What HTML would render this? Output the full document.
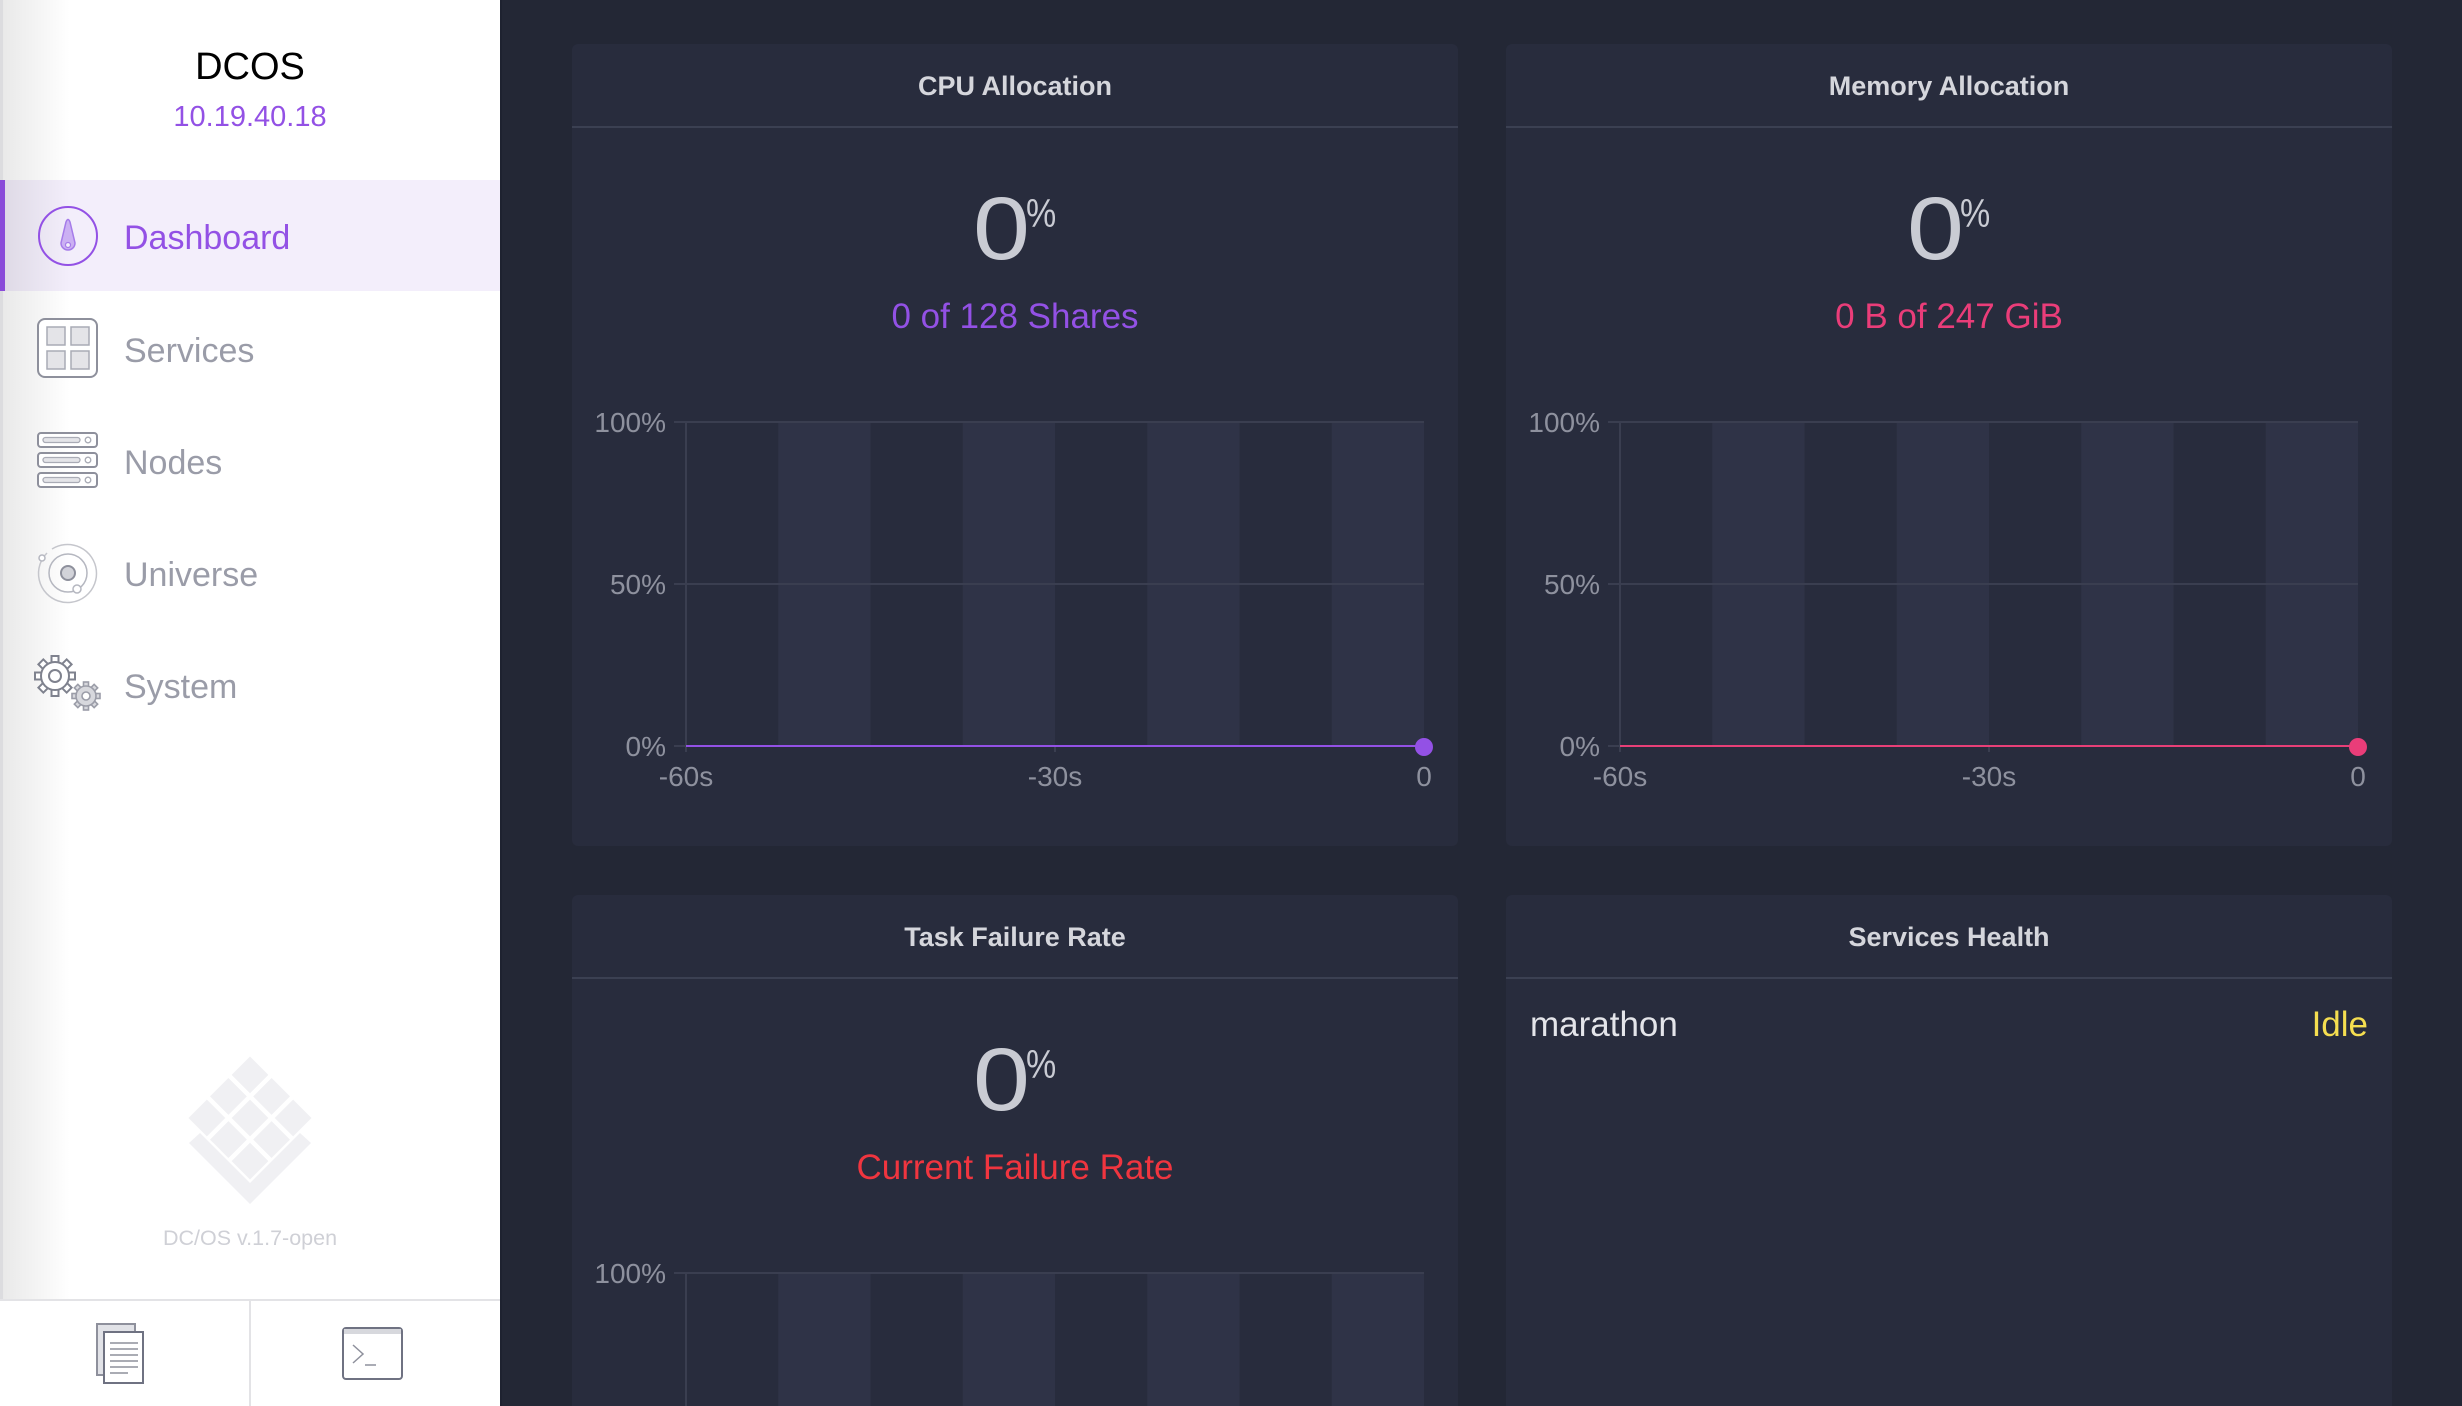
<!DOCTYPE html>
<html><head><meta charset="utf-8"><style>
html,body{margin:0;padding:0;background:#232735;overflow:hidden;width:2462px;height:1406px;}
svg{display:block;overflow:hidden;}
text{font-family:"Liberation Sans",Arial,sans-serif;}
</style></head><body>
<svg width="2462" height="1406" viewBox="0 0 2462 1406" xmlns="http://www.w3.org/2000/svg">
<defs>
<linearGradient id="sg" x1="0" y1="0" x2="1" y2="0">
<stop offset="0" stop-color="#000" stop-opacity="0.09"/>
<stop offset="1" stop-color="#000" stop-opacity="0"/>
</linearGradient>
</defs>
<!-- main bg -->
<rect x="0" y="0" width="2462" height="1406" fill="#232735"/>
<!-- sidebar -->
<rect x="0" y="0" width="500" height="1406" fill="#ffffff"/>
<rect x="0" y="180" width="500" height="111" fill="#f3eefb"/>
<rect x="0" y="0" width="70" height="1300" fill="url(#sg)"/>
<rect x="0" y="0" width="3" height="1300" fill="#dcdcdf"/>
<rect x="0" y="180" width="5" height="111" fill="#8a4bd9"/>
<rect x="500" y="0" width="2" height="1406" fill="#1e2230"/>

<text x="250" y="79" font-size="38" fill="#000" text-anchor="middle">DCOS</text>
<text x="250" y="126" font-size="29" fill="#9351e5" text-anchor="middle">10.19.40.18</text>

<!-- nav icons -->
<circle cx="68" cy="236" r="29" fill="none" stroke="#9351e5" stroke-width="2"/>
<path d="M66,222 Q68,217 70,222 L75,243 A7,7 0 1 1 61,243 Z" fill="#cbb0f3" stroke="#a57be9" stroke-width="1.5"/>
<circle cx="68" cy="245" r="2.5" fill="#f3eefb" stroke="#a57be9" stroke-width="1.2"/>

<rect x="38" y="319" width="59" height="58" rx="7" fill="#fff" stroke="#8e909c" stroke-width="2"/>
<rect x="47" y="327" width="18" height="18" fill="#e4e4e8" stroke="#a9abb5" stroke-width="1.5"/>
<rect x="71" y="327" width="18" height="18" fill="#e4e4e8" stroke="#a9abb5" stroke-width="1.5"/>
<rect x="47" y="351" width="18" height="18" fill="#e4e4e8" stroke="#a9abb5" stroke-width="1.5"/>
<rect x="71" y="351" width="18" height="18" fill="#e4e4e8" stroke="#a9abb5" stroke-width="1.5"/>

<g stroke="#8e909c" stroke-width="2" fill="#fff">
<rect x="38" y="433" width="59" height="14" rx="3"/>
<rect x="38" y="453" width="59" height="14" rx="3"/>
<rect x="38" y="473" width="59" height="14" rx="3"/>
</g>
<g stroke="#a9abb5" stroke-width="1.3" fill="#e4e4e8">
<rect x="43" y="437.5" width="37" height="5" rx="2.5"/>
<rect x="43" y="457.5" width="37" height="5" rx="2.5"/>
<rect x="43" y="477.5" width="37" height="5" rx="2.5"/>
<circle cx="88" cy="440" r="2.8" fill="#fff"/>
<circle cx="88" cy="460" r="2.8" fill="#fff"/>
<circle cx="88" cy="480" r="2.8" fill="#fff"/>
</g>

<path d="M47,553 A29,29 0 1 0 52,549" fill="none" stroke="#c5c6cc" stroke-width="1.5"/>
<circle cx="68" cy="573" r="19" fill="none" stroke="#b5b7c0" stroke-width="1.5"/>
<circle cx="68" cy="573" r="7" fill="#d2d3d9" stroke="#8e909c" stroke-width="2"/>
<circle cx="42" cy="558" r="3" fill="#fff" stroke="#b5b7c0" stroke-width="1.5"/>
<circle cx="77" cy="589" r="4" fill="#fff" stroke="#b5b7c0" stroke-width="1.5"/>

<g transform="translate(55,676)" stroke="#7f828e" stroke-width="2" fill="#fff">
<g>
<rect x="-3.5" y="-20" width="7" height="8" transform="rotate(0)"/>
<rect x="-3.5" y="-20" width="7" height="8" transform="rotate(45)"/>
<rect x="-3.5" y="-20" width="7" height="8" transform="rotate(90)"/>
<rect x="-3.5" y="-20" width="7" height="8" transform="rotate(135)"/>
<rect x="-3.5" y="-20" width="7" height="8" transform="rotate(180)"/>
<rect x="-3.5" y="-20" width="7" height="8" transform="rotate(225)"/>
<rect x="-3.5" y="-20" width="7" height="8" transform="rotate(270)"/>
<rect x="-3.5" y="-20" width="7" height="8" transform="rotate(315)"/>
</g>
<circle r="14"/>
<circle r="6" fill="none"/>
</g>
<g transform="translate(86,696)" stroke="#9b9da8" stroke-width="1.6" fill="#d7d8dd">
<rect x="-2.5" y="-14" width="5" height="6" transform="rotate(0)"/>
<rect x="-2.5" y="-14" width="5" height="6" transform="rotate(45)"/>
<rect x="-2.5" y="-14" width="5" height="6" transform="rotate(90)"/>
<rect x="-2.5" y="-14" width="5" height="6" transform="rotate(135)"/>
<rect x="-2.5" y="-14" width="5" height="6" transform="rotate(180)"/>
<rect x="-2.5" y="-14" width="5" height="6" transform="rotate(225)"/>
<rect x="-2.5" y="-14" width="5" height="6" transform="rotate(270)"/>
<rect x="-2.5" y="-14" width="5" height="6" transform="rotate(315)"/>
<circle r="10"/>
<circle r="4" fill="#fff"/>
</g>

<text x="124" y="249" font-size="34" fill="#9351e5">Dashboard</text>
<text x="124" y="362" font-size="34" fill="#9a9ca8">Services</text>
<text x="124" y="474" font-size="34" fill="#9a9ca8">Nodes</text>
<text x="124" y="586" font-size="34" fill="#9a9ca8">Universe</text>
<text x="124" y="698" font-size="34" fill="#9a9ca8">System</text>

<!-- logo -->
<g transform="translate(250,1118) rotate(45)" fill="#f0f0f3">
<rect x="-43.5" y="-43.5" width="26" height="26"/>
<rect x="-13" y="-43.5" width="26" height="26"/>
<rect x="17.5" y="-43.5" width="26" height="26"/>
<rect x="-43.5" y="-13" width="26" height="26"/>
<rect x="-13" y="-13" width="26" height="26"/>
<rect x="17.5" y="-13" width="26" height="26"/>
<rect x="-43.5" y="17.5" width="26" height="26"/>
<rect x="-13" y="17.5" width="26" height="26"/>
<rect x="17.5" y="17.5" width="26" height="26"/>
</g>
<polygon points="189,1143 200,1133 250,1183 300,1133 311,1143 250,1204" fill="#f0f0f3"/>
<text x="250" y="1245" font-size="21.5" fill="#cfd0d6" text-anchor="middle">DC/OS v.1.7-open</text>

<!-- footer -->
<rect x="0" y="1300" width="500" height="106" fill="#fff"/>
<rect x="0" y="1299" width="500" height="2" fill="#e3e3e6"/>
<rect x="249" y="1301" width="2" height="105" fill="#e3e3e6"/>
<rect x="97" y="1324" width="38" height="51" fill="#e1e2e7" stroke="#8e909c" stroke-width="2"/>
<rect x="104" y="1332" width="39" height="51" fill="#fff" stroke="#6f7282" stroke-width="2"/>
<g stroke="#8e909c" stroke-width="1.5">
<line x1="110" y1="1343" x2="138" y2="1343"/>
<line x1="110" y1="1349" x2="138" y2="1349"/>
<line x1="110" y1="1355" x2="138" y2="1355"/>
<line x1="110" y1="1361" x2="138" y2="1361"/>
<line x1="110" y1="1367" x2="138" y2="1367"/>
<line x1="110" y1="1373" x2="128" y2="1373"/>
</g>
<rect x="343" y="1328" width="59" height="51" rx="3" fill="#fff" stroke="#6f7282" stroke-width="2"/>
<rect x="344" y="1329" width="57" height="5" fill="#d7d8dd"/>
<polyline points="353,1345 363,1354 353,1363" fill="none" stroke="#8e909c" stroke-width="1.5"/>
<line x1="365" y1="1365" x2="376" y2="1365" stroke="#8e909c" stroke-width="1.5"/>

<!-- panels -->
<rect x="572" y="44" width="886" height="802" rx="6" fill="#282c3d"/>
<rect x="1506" y="44" width="886" height="802" rx="6" fill="#282c3d"/>
<rect x="572" y="895" width="886" height="40" rx="6" fill="#282c3d"/>
<rect x="572" y="910" width="886" height="496" fill="#282c3d"/>
<rect x="1506" y="895" width="886" height="40" rx="6" fill="#282c3d"/>
<rect x="1506" y="910" width="886" height="496" fill="#282c3d"/>
<rect x="572" y="126" width="886" height="2" fill="#3b4052"/>
<rect x="1506" y="126" width="886" height="2" fill="#3b4052"/>
<rect x="572" y="977" width="886" height="2" fill="#3b4052"/>
<rect x="1506" y="977" width="886" height="2" fill="#3b4052"/>

<g font-size="27" font-weight="bold" fill="#d5d6dc" text-anchor="middle">
<text x="1015" y="95">CPU Allocation</text>
<text x="1949" y="95">Memory Allocation</text>
<text x="1015" y="946">Task Failure Rate</text>
<text x="1949" y="946">Services Health</text>
</g>

<!-- big numbers -->
<g fill="#c9cbd3">
<text transform="translate(1001.5,259) scale(1.15,1)" font-size="89" text-anchor="middle">0</text>
<text transform="translate(1026,227) scale(0.85,1)" font-size="40">%</text>
<text transform="translate(1935.5,259) scale(1.15,1)" font-size="89" text-anchor="middle">0</text>
<text transform="translate(1960,227) scale(0.85,1)" font-size="40">%</text>
<text transform="translate(1001.5,1110) scale(1.15,1)" font-size="89" text-anchor="middle">0</text>
<text transform="translate(1026,1078) scale(0.85,1)" font-size="40">%</text>
</g>
<text x="1015" y="328" font-size="35" fill="#9351e5" text-anchor="middle">0 of 128 Shares</text>
<text x="1949" y="328" font-size="35" fill="#ea3d79" text-anchor="middle">0 B of 247 GiB</text>
<text x="1015" y="1179" font-size="35" fill="#f0353f" text-anchor="middle">Current Failure Rate</text>

<!-- chart stripes -->
<g fill="#2f3347">
<rect x="778.25" y="422" width="92.25" height="324"/>
<rect x="962.75" y="422" width="92.25" height="324"/>
<rect x="1147.25" y="422" width="92.25" height="324"/>
<rect x="1331.75" y="422" width="92.25" height="324"/>
<rect x="1712.25" y="422" width="92.25" height="324"/>
<rect x="1896.75" y="422" width="92.25" height="324"/>
<rect x="2081.25" y="422" width="92.25" height="324"/>
<rect x="2265.75" y="422" width="92.25" height="324"/>
<rect x="778.25" y="1273" width="92.25" height="133"/>
<rect x="962.75" y="1273" width="92.25" height="133"/>
<rect x="1147.25" y="1273" width="92.25" height="133"/>
<rect x="1331.75" y="1273" width="92.25" height="133"/>
</g>
<g stroke="#3a3e50" stroke-width="2">
<line x1="674" y1="422" x2="1424" y2="422"/>
<line x1="674" y1="584" x2="1424" y2="584"/>
<line x1="674" y1="746" x2="1424" y2="746"/>
<line x1="686" y1="422" x2="686" y2="752"/>
<line x1="1055" y1="746" x2="1055" y2="752"/>
<line x1="1608" y1="422" x2="2358" y2="422"/>
<line x1="1608" y1="584" x2="2358" y2="584"/>
<line x1="1608" y1="746" x2="2358" y2="746"/>
<line x1="1620" y1="422" x2="1620" y2="752"/>
<line x1="1989" y1="746" x2="1989" y2="752"/>
<line x1="674" y1="1273" x2="1424" y2="1273"/>
<line x1="686" y1="1273" x2="686" y2="1406"/>
</g>
<g font-size="28" fill="#8e919e">
<text x="666" y="432" text-anchor="end">100%</text>
<text x="666" y="594" text-anchor="end">50%</text>
<text x="666" y="756" text-anchor="end">0%</text>
<text x="1600" y="432" text-anchor="end">100%</text>
<text x="1600" y="594" text-anchor="end">50%</text>
<text x="1600" y="756" text-anchor="end">0%</text>
<text x="666" y="1283" text-anchor="end">100%</text>
<text x="686" y="786" text-anchor="middle">-60s</text>
<text x="1055" y="786" text-anchor="middle">-30s</text>
<text x="1424" y="786" text-anchor="middle">0</text>
<text x="1620" y="786" text-anchor="middle">-60s</text>
<text x="1989" y="786" text-anchor="middle">-30s</text>
<text x="2358" y="786" text-anchor="middle">0</text>
</g>
<line x1="686" y1="746" x2="1424" y2="746" stroke="#9351e5" stroke-width="2"/>
<circle cx="1424" cy="747" r="9" fill="#9351e5"/>
<line x1="1620" y1="746" x2="2358" y2="746" stroke="#e83f77" stroke-width="2"/>
<circle cx="2358" cy="747" r="9" fill="#ea3d79"/>

<!-- services health -->
<text x="1530" y="1036" font-size="35" fill="#e4e5ea">marathon</text>
<text x="2368" y="1036" font-size="35" fill="#f5de50" text-anchor="end">Idle</text>
</svg>
</body></html>
